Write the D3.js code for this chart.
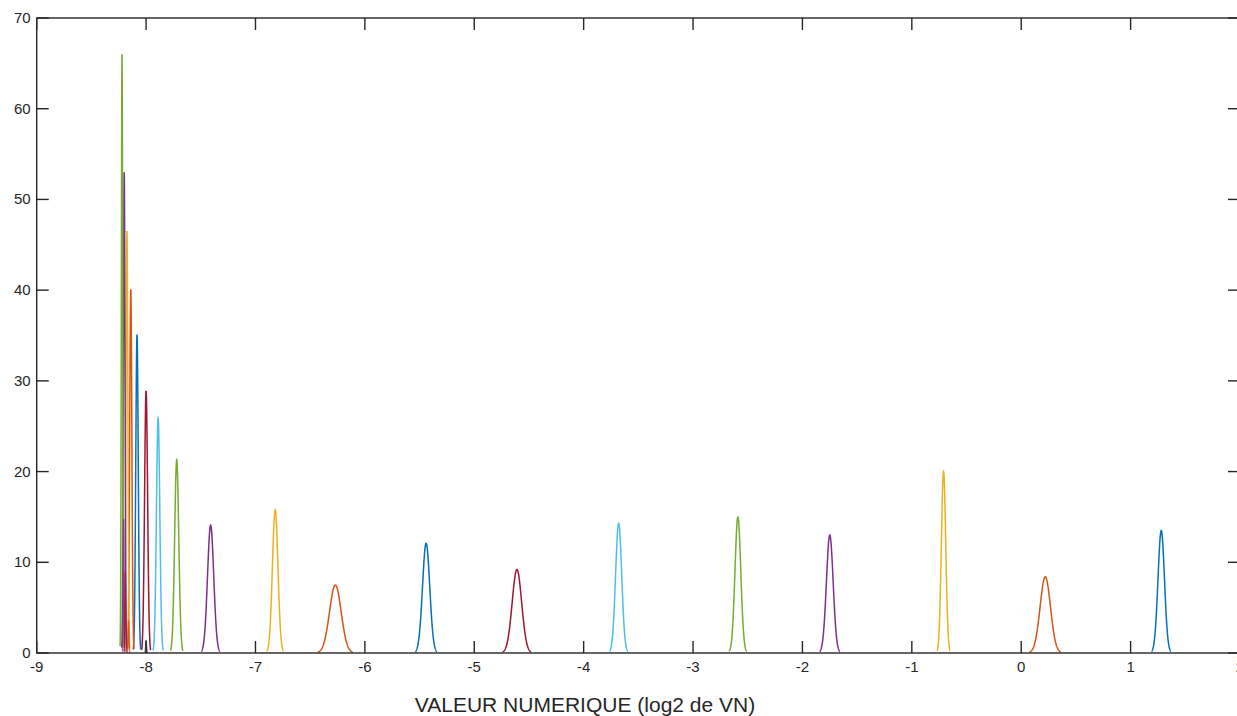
<!DOCTYPE html>
<html>
<head>
<meta charset="utf-8">
<script src="https://cdn.jsdelivr.net/npm/d3@7"></script>
<style>
  body { margin: 0; background: #fff; overflow: hidden; }
  svg { display: block; font-family: "Liberation Sans", Arial, sans-serif; }
</style>
</head>
<body>
<svg id="chart" width="1237" height="716"></svg>
<script>
// peak centre (log2 VN) and peak height, in plotting order
const peakCenters = [1.28, 0.22, -0.71, -1.75, -2.59, -3.68, -4.61, -5.44, -6.27, -6.82,
  -7.41, -7.72, -7.89, -8.0, -8.083, -8.14, -8.175, -8.20, -8.22];
const peakHeights = [13.5, 8.4, 20.0, 13.0, 15.0, 14.3, 9.2, 12.1, 7.5, 15.8,
  14.1, 21.3, 25.9, 28.9, 35.1, 40.1, 46.5, 53.0, 66.0];
// thin low spikes hidden in the cluster near -8.2
const spikeCenters = [-8.205, -8.19, -8.16, -8.0];
const spikeHeights = [14.8, 9.0, 3.5, 1.4];
const spikeColors = ["#7E2F8E", "#A2142F", "#D95319", "#333333"];
const xTicks = [-9, -8, -7, -6, -5, -4, -3, -2, -1, 0, 1, 2];
const yTicks = [0, 10, 20, 30, 40, 50, 60, 70];
const matlabColors = ["#0072BD", "#D95319", "#EDB120", "#7E2F8E", "#77AC30", "#4DBEEE", "#A2142F"];
const xLabel = "VALEUR NUMERIQUE (log2 de VN)";

const svg = d3.select("#chart");
const mLeft = 36.7, mRight = 1240, mTop = 18, mBottom = 653;

const x = d3.scaleLinear().domain([-9, 2]).range([mLeft, mRight]);
const y = d3.scaleLinear().domain([0, 70]).range([mBottom, mTop]);

const axisColor = "#262626";
const tickLen = 12;

// curves (normal density with the given peak height)
const line = d3.line().x(d => x(d[0])).y(d => y(d[1]));
const plot = svg.append("g");
function bell(mu, h, sigma) {
  return d3.range(-3, 3.001, 0.05).map(t => [mu + t * sigma, h * Math.exp(-t * t / 2)]);
}
peakCenters.forEach((mu, i) => {
  const h = peakHeights[i];
  const sigma = 1 / (h * Math.sqrt(2 * Math.PI));
  plot.append("path")
    .datum(bell(mu, h, sigma))
    .attr("d", line)
    .attr("fill", "none")
    .attr("stroke", matlabColors[i % 7])
    .attr("stroke-width", 1.5);
});
spikeCenters.forEach((mu, i) => {
  plot.append("path")
    .datum(bell(mu, spikeHeights[i], 0.004))
    .attr("d", line)
    .attr("fill", "none")
    .attr("stroke", spikeColors[i])
    .attr("stroke-opacity", 0.8)
    .attr("stroke-width", 1.3);
});

// box
svg.append("rect")
  .attr("x", mLeft).attr("y", mTop)
  .attr("width", mRight - mLeft).attr("height", mBottom - mTop)
  .attr("fill", "none").attr("stroke", axisColor).attr("stroke-width", 1.4);

// ticks (inward, both sides)
const ticks = svg.append("g").attr("stroke", axisColor).attr("stroke-width", 1.4);
xTicks.forEach(t => {
  ticks.append("line").attr("x1", x(t)).attr("x2", x(t)).attr("y1", mBottom).attr("y2", mBottom - tickLen);
  ticks.append("line").attr("x1", x(t)).attr("x2", x(t)).attr("y1", mTop).attr("y2", mTop + tickLen);
});
yTicks.forEach(t => {
  ticks.append("line").attr("x1", mLeft).attr("x2", mLeft + tickLen).attr("y1", y(t)).attr("y2", y(t));
  ticks.append("line").attr("x1", mRight).attr("x2", mRight - tickLen).attr("y1", y(t)).attr("y2", y(t));
});

// tick labels
svg.append("g").selectAll("text")
  .data(xTicks).join("text")
  .attr("x", d => x(d)).attr("y", mBottom + 19)
  .attr("text-anchor", "middle")
  .attr("font-size", 15).attr("fill", axisColor)
  .text(d => d);

svg.append("g").selectAll("text")
  .data(yTicks).join("text")
  .attr("x", mLeft - 6).attr("y", d => y(d) + 5)
  .attr("text-anchor", "end")
  .attr("font-size", 15).attr("fill", axisColor)
  .text(d => d);

svg.append("text")
  .attr("x", 585).attr("y", 712)
  .attr("text-anchor", "middle")
  .attr("font-size", 21).attr("fill", axisColor)
  .text(xLabel);
</script>
</body>
</html>
